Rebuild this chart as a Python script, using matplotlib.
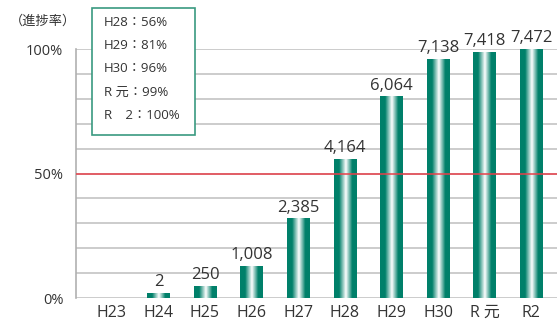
import numpy as np
import matplotlib.pyplot as plt
from matplotlib.colors import LinearSegmentedColormap
from matplotlib.patches import Rectangle

plt.rcParams['font.family'] = ['Open Sans', 'Noto Sans CJK JP', 'DejaVu Sans']

# ----------------------------
# Data
# ----------------------------
years = ["H23", "H24", "H25", "H26", "H27", "H28", "H29", "H30", "R 元", "R2"]
rates = [0, 2, 5, 13, 32, 56, 81, 96, 99, 100]
counts = [None, 2, 250, 1008, 2385, 4164, 6064, 7138, 7418, 7472]
legend_lines = ["H28：56%", "H29：81%", "H30：96%", "R 元：99%", "R　2：100%"]

TEXT = "#333333"
GREEN = "#00806a"

fig = plt.figure(figsize=(5.58, 3.25), dpi=100)
ax = fig.add_axes([0.136, 0.083, 0.862, 0.766])

# gridlines
for y in range(0, 101, 10):
    ax.axhline(y, color="#c8c8c8", lw=1.3, zorder=1)
ax.axhline(50, color="#e8404a", lw=1.1, zorder=4)

# gradient bars
cmap = LinearSegmentedColormap.from_list(
    "bar", [(0, GREEN), (0.22, GREEN), (0.52, "#ffffff"), (0.8, GREEN), (1, GREEN)])
grad = np.linspace(0, 1, 64).reshape(1, -1)
w = 0.48
x = np.arange(len(years))
for xi, r in zip(x, rates):
    if r <= 0:
        continue
    im = ax.imshow(grad, cmap=cmap, aspect="auto",
                   extent=(xi - w / 2, xi + w / 2, 0, r), zorder=3)
    im.set_clip_path(Rectangle((xi - w / 2, 0), w, r, transform=ax.transData))

for xi, r, c in zip(x, rates, counts):
    if c is None:
        continue
    ax.annotate(f"{c:,}", (xi, r), xytext=(0, 2), textcoords="offset points",
                ha="center", va="bottom", fontsize=12, color=TEXT,
                annotation_clip=False)

ax.set_xlim(-0.77, 9.55)
ax.set_ylim(0, 100)
ax.set_xticks(x)
ax.set_xticklabels(years, fontsize=11.5, color=TEXT)
ax.set_yticks([0, 50, 100])
ax.set_yticklabels(["0%", "50%", "100%"], fontsize=10.5, color=TEXT)
ax.tick_params(axis="y", length=0, pad=9)
ax.tick_params(axis="x", length=0, pad=5)
for s in ["top", "right", "bottom"]:
    ax.spines[s].set_visible(False)
ax.spines["left"].set_color("#b0b0b0")
ax.spines["left"].set_linewidth(1.2)
ax.set_facecolor("white")

fig.text(0.018, 0.935, "（進捗率）", fontsize=9.5, color=TEXT, va="center")

# legend box
fig.patches.append(Rectangle((92 / 558, 1 - 135 / 325), 103 / 558, 127 / 325,
                             transform=fig.transFigure, facecolor="white",
                             edgecolor="#3a9a80", lw=1.2, zorder=5))
for i, line in enumerate(legend_lines):
    fig.text(104 / 558, 1 - (22 + i * 23.3) / 325, line, fontsize=9.5,
             color=TEXT, va="center", zorder=6)

fig.savefig("out.png", dpi=100)
